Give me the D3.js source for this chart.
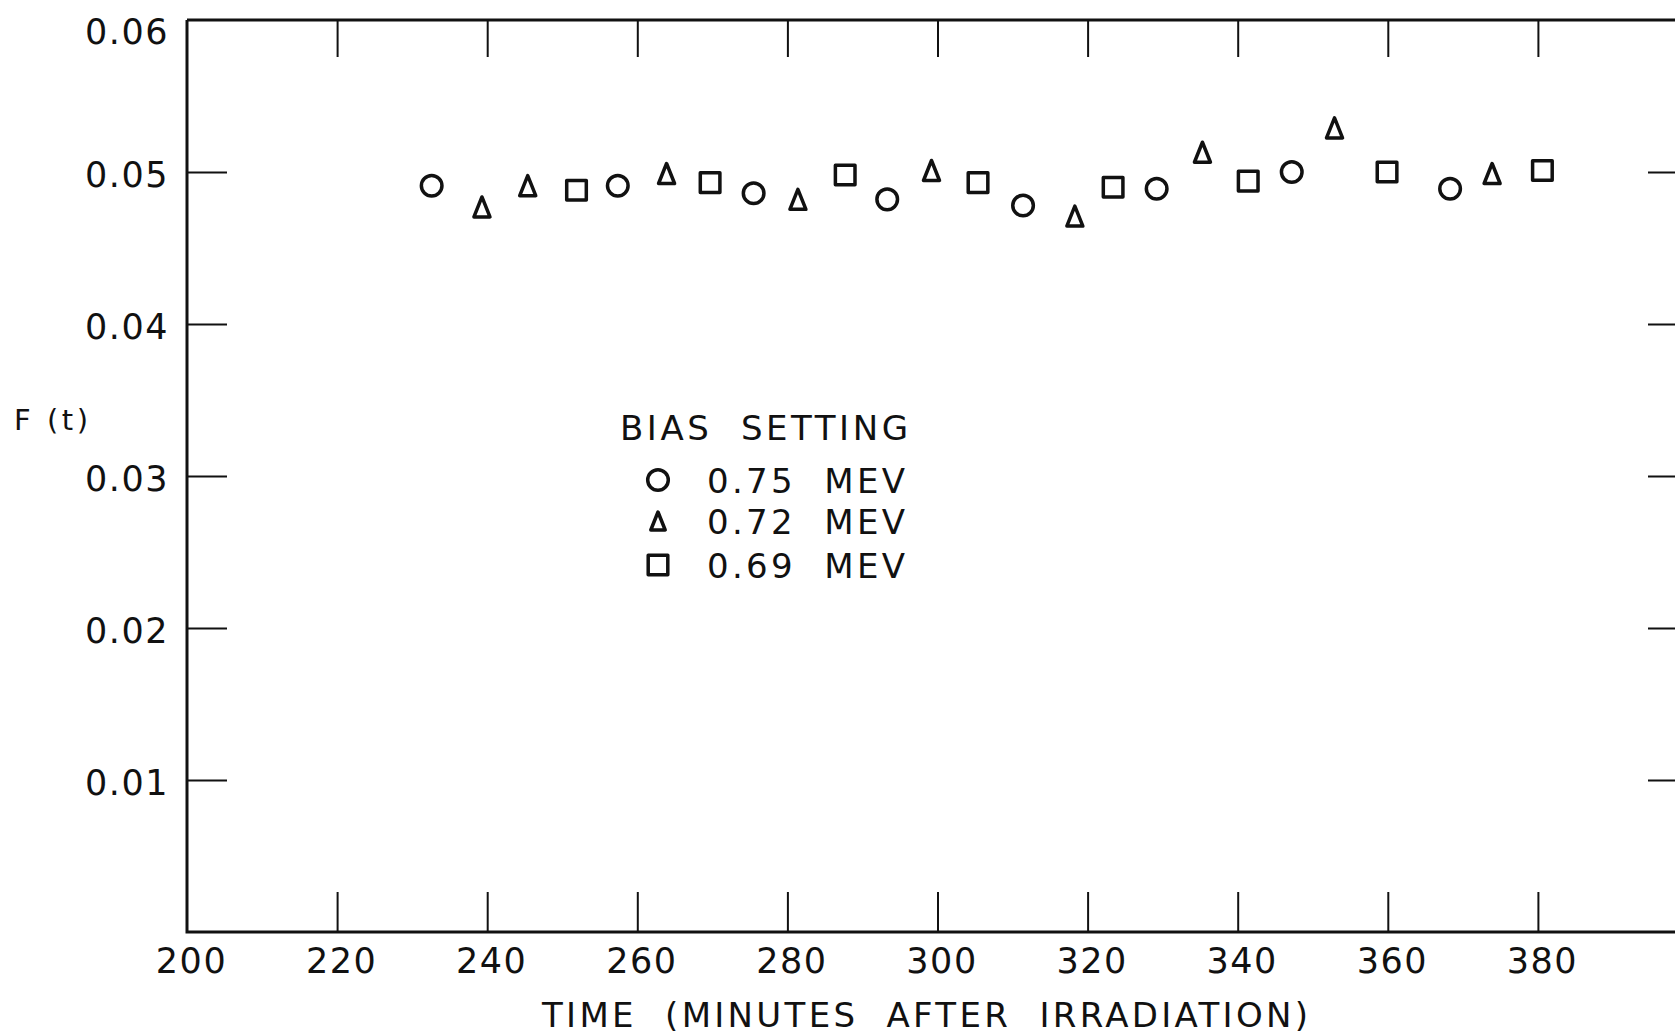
<!DOCTYPE html>
<html>
<head>
<meta charset="utf-8">
<script src="https://cdn.jsdelivr.net/npm/d3@7"></script>
<style>
  html, body { margin: 0; padding: 0; background: #fff; }
  svg { display: block; }
  text { font-family: "DejaVu Sans", sans-serif; fill: #111; white-space: pre; }
</style>
</head>
<body>
<svg id="chart" width="1675" height="1034"></svg>
<script>
// Fraction F(t) versus time after irradiation, for three bias settings
const xTickLabels = [200, 220, 240, 260, 280, 300, 320, 340, 360, 380];
const xInnerTicks = [220, 240, 260, 280, 300, 320, 340, 360, 380];
const yTickLabels = [0.01, 0.02, 0.03, 0.04, 0.05, 0.06];
const yInnerTicks = [0.01, 0.02, 0.03, 0.04, 0.05];

// 0.75 MeV (circles)
const circleTime = [232.6, 257.4, 275.5, 293.3, 311.4, 329.2, 347.2, 368.3];
const circleF    = [0.0491, 0.0491, 0.0486, 0.0482, 0.0478, 0.0489, 0.0500, 0.0489];
// 0.72 MeV (triangles)
const triangleTime = [239.3, 245.4, 263.9, 281.4, 299.2, 318.3, 335.3, 352.9, 373.9];
const triangleF    = [0.0477, 0.0491, 0.0499, 0.0482, 0.0501, 0.0471, 0.0513, 0.0529, 0.0499];
// 0.69 MeV (squares)
const squareTime = [251.9, 269.7, 287.7, 305.4, 323.4, 341.4, 359.9, 380.6];
const squareF    = [0.0488, 0.0493, 0.0498, 0.0493, 0.0490, 0.0494, 0.0500, 0.0501];

const legendTitle = "BIAS  SETTING";
const legendLabels = ["0.75  MEV", "0.72  MEV", "0.69  MEV"];
const legendShapes = ["circle", "triangle", "square"];
const xTitle = "TIME  (MINUTES  AFTER  IRRADIATION)";
const yTitle = "F (t)";

const svg = d3.select("#chart");
const ink = "#111";

const x = d3.scaleLinear().domain([200, 400]).range([187, 1688]);
const y = d3.scaleLinear().domain([0, 0.06]).range([932, 20]);

// frame
const frame = svg.append("g").attr("fill", "none").attr("stroke", ink).attr("stroke-width", 3);
frame.append("path").attr("d", d3.line()([[x(200), y(0.06)], [x(200), y(0)], [x(400), y(0)], [x(400), y(0.06)], [x(200), y(0.06)]]));

// inward tick marks
function styleTicks(g) {
  g.select(".domain").remove();
  g.selectAll(".tick line").attr("stroke", ink).attr("stroke-width", 2);
}
svg.append("g").attr("transform", `translate(0,${y(0)})`)
  .call(d3.axisBottom(x).tickValues(xInnerTicks).tickSize(-40).tickFormat(""))
  .call(styleTicks);
svg.append("g").attr("transform", `translate(0,${y(0.06)})`)
  .call(d3.axisTop(x).tickValues(xInnerTicks).tickSize(-37).tickFormat(""))
  .call(styleTicks);
svg.append("g").attr("transform", `translate(${x(200)},0)`)
  .call(d3.axisLeft(y).tickValues(yInnerTicks).tickSize(-40).tickFormat(""))
  .call(styleTicks);
svg.append("g").attr("transform", `translate(${x(400)},0)`)
  .call(d3.axisRight(y).tickValues(yInnerTicks).tickSize(-40).tickFormat(""))
  .call(styleTicks);

// tick labels
function styleLabels(g) {
  g.select(".domain").remove();
  g.selectAll(".tick line").remove();
  g.selectAll(".tick text")
    .attr("fill", ink)
    .style("font-family", '"DejaVu Sans", sans-serif')
    .style("font-size", "35px")
    .style("letter-spacing", "1.5px");
}
svg.append("g").attr("transform", `translate(0,${y(0)})`)
  .call(d3.axisBottom(x).tickValues(xTickLabels).tickSize(0).tickPadding(16).tickFormat(d3.format("d")))
  .call(styleLabels)
  .selectAll(".tick text").attr("dx", 4);
const yLab = svg.append("g").attr("transform", `translate(${x(200)},0)`)
  .call(d3.axisLeft(y).tickValues(yTickLabels).tickSize(0).tickPadding(18).tickFormat(d3.format(".2f")))
  .call(styleLabels);
yLab.selectAll(".tick text").attr("dy", d => d === 0.06 ? "0.66em" : "0.4em");

// axis titles
svg.append("text")
  .attr("x", 542).attr("y", 1027)
  .attr("textLength", 766).attr("lengthAdjust", "spacing")
  .style("font-size", "34px")
  .text(xTitle);
svg.append("text")
  .attr("x", 14).attr("y", 430)
  .attr("textLength", 74).attr("lengthAdjust", "spacing")
  .style("font-size", "29px")
  .text(yTitle);

// marker shapes
function drawShape(sel, shape, cx, cy, scale) {
  const s = scale || 1;
  if (shape === "circle") {
    sel.append("circle").attr("cx", cx).attr("cy", cy).attr("r", 10.3 * s);
  } else if (shape === "square") {
    const h = 9.8 * s;
    sel.append("rect").attr("x", cx - h).attr("y", cy - h).attr("width", 2 * h).attr("height", 2 * h);
  } else {
    const w = 8 * s, hh = 10 * s;
    sel.append("path").attr("d", d3.line()([[cx, cy - hh], [cx + w, cy + hh], [cx - w, cy + hh]]) + "Z");
  }
}

const marks = svg.append("g")
  .attr("fill", "none").attr("stroke", ink).attr("stroke-width", 3.5)
  .attr("stroke-linejoin", "round");

const series = [
  { shape: "circle", t: circleTime, f: circleF },
  { shape: "triangle", t: triangleTime, f: triangleF },
  { shape: "square", t: squareTime, f: squareF }
];
series.forEach(s => {
  s.t.forEach((t, i) => drawShape(marks, s.shape, x(t), y(s.f[i])));
});

// legend
svg.append("text")
  .attr("x", 620).attr("y", 440)
  .attr("textLength", 288).attr("lengthAdjust", "spacing")
  .style("font-size", "34px")
  .text(legendTitle);
const legendRowsY = [480, 521, 565];
legendLabels.forEach((lab, i) => {
  const cy = legendRowsY[i];
  const shapeScale = legendShapes[i] === "triangle" ? 0.9 : 1;
  drawShape(marks, legendShapes[i], 658, cy, shapeScale);
  svg.append("text")
    .attr("x", 707).attr("y", cy + 12.5)
    .attr("textLength", 198).attr("lengthAdjust", "spacing")
    .style("font-size", "34px")
    .text(lab);
});
</script>
</body>
</html>
